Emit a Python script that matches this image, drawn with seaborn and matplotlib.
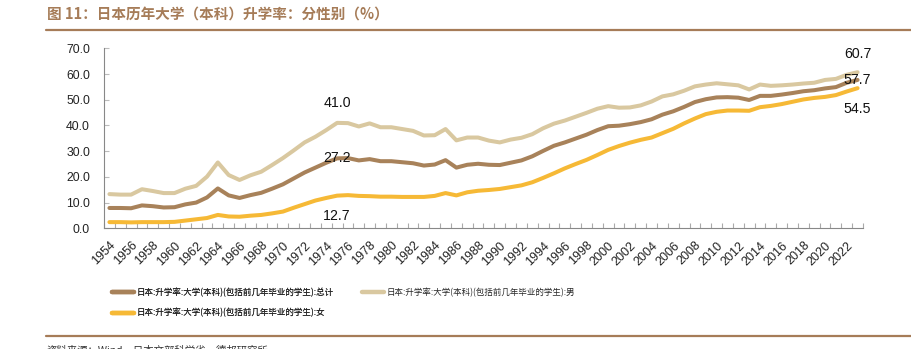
import matplotlib
matplotlib.use('Agg')
import matplotlib.pyplot as plt
import seaborn as sns
import pandas as pd
import numpy as np
from matplotlib.lines import Line2D

sns.set_theme(style='white')
plt.rcParams['font.family'] = ['Liberation Sans', 'Noto Sans CJK SC', 'DejaVu Sans']

# ---------------- data ----------------
years = list(range(1954, 2024))

total = [7.9, 7.9, 7.8, 8.9, 8.6, 8.1, 8.2, 9.3, 10.0, 12.0,
         15.5, 12.8, 11.8, 12.9, 13.8, 15.4, 17.1, 19.4, 21.7, 23.6,
         25.5, 27.2, 27.3, 26.4, 26.9, 26.1, 26.1, 25.7, 25.3, 24.4,
         24.8, 26.5, 23.6, 24.7, 25.1, 24.7, 24.6, 25.5, 26.4, 28.0,
         30.1, 32.1, 33.4, 34.9, 36.4, 38.2, 39.7, 39.9, 40.5, 41.3,
         42.4, 44.2, 45.5, 47.2, 49.1, 50.2, 50.9, 51.0, 50.8, 49.9,
         51.5, 51.5, 52.0, 52.6, 53.3, 53.7, 54.4, 54.9, 56.6, 57.7]

male = [13.3, 13.1, 13.1, 15.2, 14.5, 13.7, 13.7, 15.4, 16.5, 20.1,
        25.6, 20.7, 18.8, 20.6, 22.0, 24.6, 27.3, 30.3, 33.4, 35.6,
        38.2, 41.0, 40.9, 39.6, 40.8, 39.3, 39.3, 38.6, 37.9, 36.1,
        36.2, 38.6, 34.2, 35.3, 35.3, 34.1, 33.4, 34.5, 35.2, 36.6,
        38.9, 40.7, 41.9, 43.4, 44.9, 46.5, 47.5, 46.9, 47.0, 47.8,
        49.3, 51.3, 52.1, 53.5, 55.2, 55.9, 56.4, 56.0, 55.6, 54.0,
        55.9, 55.4, 55.6, 55.9, 56.3, 56.6, 57.7, 58.1, 59.7, 60.7]

female = [2.4, 2.4, 2.3, 2.4, 2.4, 2.4, 2.5, 3.0, 3.5, 4.0,
          5.2, 4.6, 4.5, 4.9, 5.2, 5.8, 6.5, 8.0, 9.4, 10.8,
          11.8, 12.7, 12.9, 12.6, 12.5, 12.3, 12.3, 12.2, 12.2, 12.2,
          12.6, 13.7, 12.8, 14.0, 14.6, 14.9, 15.3, 16.0, 16.7, 17.9,
          19.6, 21.4, 23.3, 25.0, 26.6, 28.5, 30.5, 32.0, 33.3, 34.4,
          35.3, 37.0, 38.7, 40.8, 42.7, 44.4, 45.3, 45.8, 45.8, 45.7,
          47.1, 47.6, 48.3, 49.2, 50.1, 50.7, 51.1, 51.8, 53.2, 54.5]

name_total = '日本:升学率:大学(本科)(包括前几年毕业的学生):总计'
name_male = '日本:升学率:大学(本科)(包括前几年毕业的学生):男'
name_female = '日本:升学率:大学(本科)(包括前几年毕业的学生):女'

title = '图 11：日本历年大学（本科）升学率：分性别（%）'
source = '资料来源：Wind，日本文部科学省，德邦研究所'

colors = {name_total: '#A8825A', name_male: '#D9C8A0', name_female: '#F6B936'}

df = pd.DataFrame({
    'year': years * 3,
    'value': total + male + female,
    'series': [name_total] * len(years) + [name_male] * len(years) + [name_female] * len(years),
})

# ---------------- figure ----------------
W, H = 911, 349
fig = plt.figure(figsize=(W / 100, H / 100), dpi=100)
fig.patch.set_facecolor('white')
ax = fig.add_axes([104 / W, 1 - 228.3 / H, (863 - 104) / W, (228.3 - 48.3) / H])

sns.lineplot(data=df, x='year', y='value', hue='series',
             hue_order=[name_male, name_total, name_female],
             palette=colors, lw=2.9, ax=ax, legend=False)

ax.set_xlim(1953.5, 2023.5)
ax.set_ylim(0, 70)
ax.set_xlabel('')
ax.set_ylabel('')

yt = np.arange(0, 71, 10)
ax.set_yticks(yt)
ax.set_yticklabels([f'{v:.1f}' for v in yt], fontsize=8.8, color='#222')
ax.set_xticks(years[::2])
ax.set_xticklabels([str(y) for y in years[::2]], fontsize=9, color='#222')
ax.set_xticks(np.arange(1953.5, 2024, 1), minor=True)
for lbl in ax.get_xticklabels():
    lbl.set_rotation(45)
    lbl.set_ha('right')
    lbl.set_va('top')
    lbl.set_rotation_mode('anchor')

ax.tick_params(axis='x', which='major', length=0, pad=8)
ax.tick_params(axis='x', which='minor', length=3.5, direction='in', color='#aaaaaa', width=0.8, bottom=True)
ax.tick_params(axis='y', which='major', length=3.5, direction='in', color='#bbbbbb', width=0.8, pad=10, left=True)

for s in ['top', 'right']:
    ax.spines[s].set_visible(False)
for s in ['left', 'bottom']:
    ax.spines[s].set_color('#888888')
    ax.spines[s].set_linewidth(0.8)

# annotations
i75 = years.index(1975)
i23 = years.index(2023)
ann = [
    (1975, male[i75], 14),
    (1975, total[i75], 0),
    (1975, female[i75], -15),
    (2023, male[i23], 13),
    (2023, total[i23], 0),
    (2023, female[i23], -15),
]
for x, v, dy in ann:
    ax.annotate(f'{v:.1f}', xy=(x, v), xytext=(0, dy), textcoords='offset points',
                ha='center', va='center', fontsize=10.2, color='#111')

# legends (two blocks placed separately)
leg_kw = dict(loc='upper left', frameon=False,
              prop={'family': ['Noto Sans CJK SC', 'DejaVu Sans'], 'size': 6.1},
              handlelength=2.6, handletextpad=0.35, labelspacing=1.35,
              borderpad=0, borderaxespad=0)
h = {n: Line2D([0], [0], color=colors[n], lw=3.2, solid_capstyle='round')
     for n in [name_total, name_male, name_female]}
leg1 = fig.legend([h[name_total], h[name_female]], [name_total, name_female],
                  bbox_to_anchor=(112 / W, 1 - 287.5 / H), **leg_kw)
fig.add_artist(leg1)
fig.legend([h[name_male]], [name_male],
           bbox_to_anchor=(362 / W, 1 - 287.5 / H), **leg_kw)

# title and rules
fig.text(47 / W, 1 - 14 / H, title, fontsize=10.5, fontweight='bold', color='#A67C58',
         va='center', ha='left', family=['Noto Sans CJK SC', 'DejaVu Sans'])
fig.add_artist(Line2D([46 / W, 1.0], [1 - 29.5 / H] * 2, transform=fig.transFigure,
                      color='#A67C58', lw=1.6))
fig.add_artist(Line2D([46 / W, 1.0], [1 - 336 / H] * 2, transform=fig.transFigure,
                      color='#A67C58', lw=1.6))
fig.text(47 / W, 1 - 345.5 / H, source, fontsize=7.5, va='top', ha='left', color='#333',
         family=['Noto Sans CJK SC', 'DejaVu Sans'])

fig.savefig('out.png', dpi=100)
